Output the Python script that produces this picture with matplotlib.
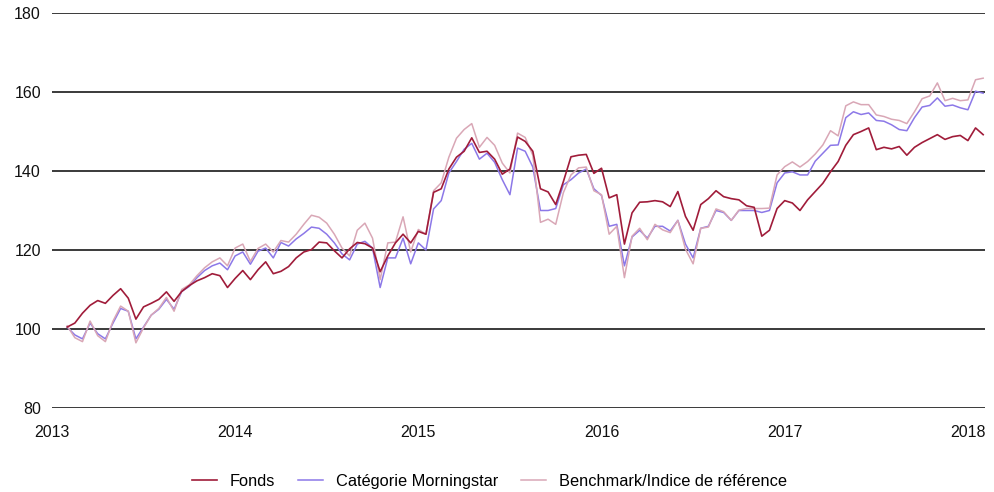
import numpy as np
import matplotlib
matplotlib.use('Agg')
import matplotlib.pyplot as plt

plt.rcParams['font.family'] = ['Liberation Sans', 'DejaVu Sans']

# semi-monthly observations, Feb 2013 -> Feb 2018 (decimal years)
dates = np.linspace(2013.083, 2018.083, 121)

fonds = [
    100.5, 101.5, 104.0, 106.0, 107.2, 106.5, 108.5, 110.2, 107.8, 102.5,
    105.6, 106.5, 107.5, 109.4, 107.0, 109.5, 111.0, 112.2, 113.0, 114.0,
    113.5, 110.5, 112.8, 114.8, 112.5, 115.0, 117.0, 114.0, 114.6, 115.8,
    118.0, 119.5, 120.1, 122.0, 121.8, 119.8, 118.0, 120.3, 121.9, 121.6,
    120.5, 114.5, 118.5, 121.8, 124.0, 121.8, 124.7, 124.0, 134.6, 135.5,
    140.5, 143.5, 145.0, 148.4, 144.7, 145.0, 143.0, 139.2, 140.5, 148.6,
    147.5, 145.0, 135.5, 134.7, 131.5, 137.3, 143.6, 144.0, 144.2, 139.4,
    140.7, 133.2, 134.0, 121.5, 129.4, 132.1, 132.2, 132.5, 132.2, 131.0,
    134.8, 128.5, 125.0, 131.5, 133.0, 135.0, 133.5, 133.0, 132.7, 131.2,
    130.8, 123.5, 125.0, 130.5, 132.5, 131.9, 130.0, 132.7, 134.8, 136.9,
    139.8, 142.4, 146.5, 149.2, 150.0, 150.9, 145.4, 146.0, 145.6, 146.2,
    144.0, 146.0, 147.2, 148.2, 149.2, 148.0, 148.7, 149.0, 147.7, 150.9,
    149.2,
]

categorie = [
    100.5, 98.5, 97.5, 101.5, 98.8, 97.5, 101.5, 105.2, 104.5, 97.5,
    100.5, 103.5, 105.0, 107.5, 105.0, 109.5, 110.8, 113.0, 114.8, 116.0,
    116.7, 115.0, 118.5, 119.5, 116.4, 119.7, 120.5, 118.0, 121.9, 121.0,
    122.8, 124.2, 125.8, 125.5, 124.0, 121.8, 119.0, 117.5, 121.5, 122.2,
    120.5, 110.5, 118.0, 118.0, 123.0, 116.5, 121.8, 120.0, 130.4, 132.5,
    139.5, 142.4, 145.5, 147.0, 143.0, 144.5, 142.2, 137.8, 134.0, 145.8,
    145.0, 141.0, 130.0, 130.0, 130.5, 136.5, 137.8, 139.5, 140.5, 135.5,
    133.8, 126.0, 126.5, 116.0, 123.3, 125.0, 123.0, 126.0, 126.0, 124.8,
    127.5, 121.5, 118.0, 125.5, 126.0, 130.0, 129.5, 127.5, 130.0, 130.0,
    130.0, 129.5, 130.0, 137.0, 139.5, 139.8, 139.0, 139.0, 142.5, 144.5,
    146.5, 146.6, 153.5, 155.0, 154.3, 154.7, 152.8, 152.6, 151.7, 150.5,
    150.2, 153.5, 156.2, 156.6, 158.5, 156.4, 156.7, 156.0, 155.5, 160.2,
    159.7,
]

benchmark = [
    100.8, 97.8, 96.8, 102.0, 98.3, 96.8, 102.0, 105.8, 104.5, 96.5,
    100.3, 103.5, 105.2, 108.0, 104.5, 110.0, 111.2, 113.5, 115.5, 117.0,
    118.0, 116.0, 120.5, 121.5, 117.1, 120.4, 121.5, 119.5, 122.4, 122.0,
    124.0, 126.5, 128.8, 128.3, 126.8, 124.0, 120.5, 118.5, 125.0, 126.8,
    123.0, 112.5, 121.8, 122.0, 128.4, 119.5, 125.2, 124.0, 135.0, 137.0,
    143.5, 148.3, 150.5, 152.0, 146.0, 148.5, 146.5, 142.0, 139.5, 149.6,
    148.5, 144.0, 127.0, 127.8, 126.5, 134.5, 139.0, 140.8, 141.0, 135.0,
    134.0, 124.0, 126.0, 113.0, 123.5, 125.5, 122.6, 126.5, 125.1, 124.4,
    127.5, 120.2, 116.5, 125.5, 125.8, 130.4, 129.7, 127.5, 130.1, 130.5,
    130.5, 130.5, 130.6, 139.0, 141.1, 142.3, 141.0, 142.4, 144.3, 146.6,
    150.2, 148.9, 156.5, 157.5, 156.8, 156.8, 154.2, 153.8, 153.1, 152.8,
    152.0, 155.0, 158.3, 159.0, 162.3, 157.8, 158.4, 157.8, 158.0, 163.1,
    163.5,
]

years = [2013, 2014, 2015, 2016, 2017, 2018]
yticks = [80, 100, 120, 140, 160, 180]

c_fonds = '#a01c3a'
c_cat = '#8c78e8'
c_bench = '#d9a7b6'

fig = plt.figure(figsize=(9.95, 4.92), dpi=100)
ax = fig.add_axes([52 / 995, 1 - 408 / 492, 933 / 995, 395 / 492])

l_cat, = ax.plot(dates, categorie, color=c_cat, lw=1.1, zorder=3)
l_bench, = ax.plot(dates, benchmark, color=c_bench, lw=1.1, zorder=3)
l_fonds, = ax.plot(dates, fonds, color=c_fonds, lw=1.2, zorder=4)

ax.set_xlim(2013, 2018.093)
ax.set_ylim(80, 180)
ax.set_xticks(years)
ax.set_xticklabels([str(y) for y in years])
ax.set_yticks(yticks)
for y in yticks:
    ax.axhline(y, color='#3a3a3a', lw=1.4, zorder=2)

for s in ax.spines.values():
    s.set_visible(False)
ax.tick_params(axis='both', length=0, labelsize=11.5, colors='#111111')
ax.tick_params(axis='y', pad=8)
ax.tick_params(axis='x', pad=12)

fig.legend([l_fonds, l_cat, l_bench],
           ['Fonds', 'Catégorie Morningstar', 'Benchmark/Indice de référence'],
           loc='center', bbox_to_anchor=(0.492, 0.022), ncol=3, frameon=False,
           fontsize=11.8, handlelength=1.5, handletextpad=0.8, columnspacing=1.4)

fig.savefig('out.png', dpi=100)
